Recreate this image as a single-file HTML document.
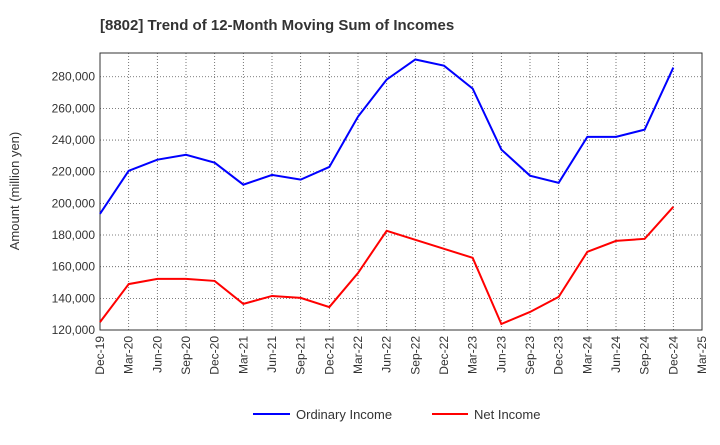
<!DOCTYPE html>
<html><head><meta charset="utf-8"><style>
body{margin:0;background:#fff;font-family:"Liberation Sans",sans-serif}
svg text{font-family:"Liberation Sans",sans-serif}
</style></head><body>
<svg id="chart" width="720" height="440" xmlns="http://www.w3.org/2000/svg">
<text x="100" y="30" font-size="15" font-weight="bold" fill="#333">[8802]  Trend of 12-Month Moving Sum of Incomes</text>
<g id="grid"></g><g id="axes"></g><g id="series"></g>
<text transform="translate(19,191) rotate(-90)" text-anchor="middle" font-size="13" fill="#333">Amount (million yen)</text>
<g>
<line x1="253" y1="414" x2="290" y2="414" stroke="#0000ff" stroke-width="2"/>
<text x="296" y="419" font-size="13" fill="#333">Ordinary Income</text>
<line x1="432" y1="414" x2="468" y2="414" stroke="#ff0000" stroke-width="2"/>
<text x="474" y="419" font-size="13" fill="#333">Net Income</text>
</g>
</svg>
<script>
const categories=["Dec-19","Mar-20","Jun-20","Sep-20","Dec-20","Mar-21","Jun-21","Sep-21","Dec-21","Mar-22","Jun-22","Sep-22","Dec-22","Mar-23","Jun-23","Sep-23","Dec-23","Mar-24","Jun-24","Sep-24","Dec-24","Mar-25"];
const ordinaryIncome=[193400,220600,227600,230700,225700,211800,218000,215000,223000,254800,278200,290900,287000,272500,234000,217500,213000,242000,242000,246600,285800];
const netIncome=[125000,149000,152300,152300,151000,136500,141500,140300,134500,156000,182700,177000,171300,165600,123800,131400,140900,169400,176300,177600,197800];
const yTicks=[120000,140000,160000,180000,200000,220000,240000,260000,280000];
const X0=100,X1=702,Y0=330,Y1=53,YMIN=120000,YMAX=295000;
const ns="http://www.w3.org/2000/svg";
function x(i){return X0+i*(X1-X0)/(categories.length-1);}
function y(v){return Y0-(v-YMIN)/(YMAX-YMIN)*(Y0-Y1);}
function mk(tag,attrs,parent){const e=document.createElementNS(ns,tag);for(const k in attrs)e.setAttribute(k,attrs[k]);parent.appendChild(e);return e;}
const grid=document.getElementById('grid'),axes=document.getElementById('axes'),series=document.getElementById('series');
categories.forEach((c,i)=>{
 const l=mk('line',{x1:x(i),x2:x(i),y1:Y1,y2:Y0,stroke:'#555','stroke-dasharray':'1,2','stroke-width':0.8},grid);
 
 
 const t=mk('text',{transform:`translate(${x(i)+4},${Y0+6}) rotate(-90)`,'text-anchor':'end','font-size':12,fill:'#333'},axes);
 t.textContent=c;
 
 
});
yTicks.forEach(v=>{
 const l=mk('line',{x1:X0,x2:X1,y1:y(v),y2:y(v),stroke:'#555','stroke-dasharray':'1,2','stroke-width':0.8},grid);
 
 
 const t=mk('text',{x:X0-5,y:y(v)+4,'text-anchor':'end','font-size':12,fill:'#333'},axes);
 t.textContent=v.toLocaleString('en-US');
 
 
});
const frame=mk('rect',{x:X0,y:Y1,width:X1-X0,height:Y0-Y1,fill:'none',stroke:'#333','stroke-width':1},axes);


function line(data,color,name){
 const p=mk('polyline',{points:data.map((v,i)=>x(i)+','+y(v)).join(' '),fill:'none',stroke:color,'stroke-width':2},series);
 
 
}
line(ordinaryIncome,'#0000ff','ordinary-income-line');
line(netIncome,'#ff0000','net-income-line');
</script>
</body></html>
